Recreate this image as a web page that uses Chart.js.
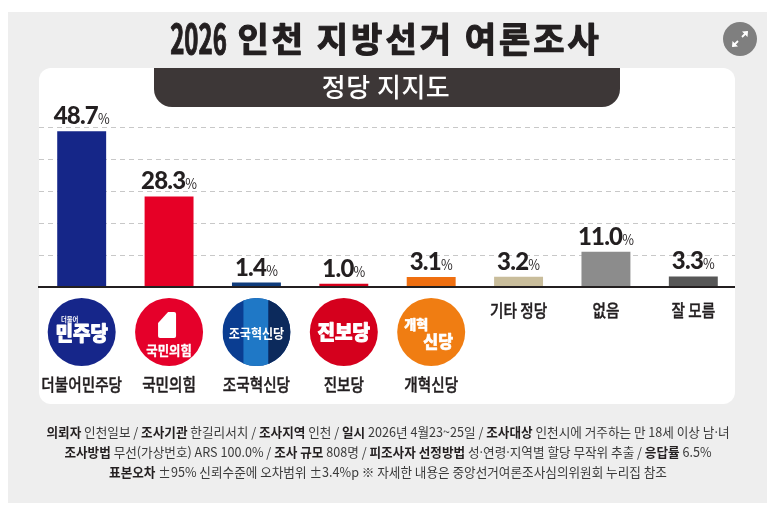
<!DOCTYPE html>
<html lang="ko">
<head>
<meta charset="utf-8">
<script src="https://cdn.jsdelivr.net/npm/chart.js@4.4.1/dist/chart.umd.min.js"></script>
<style>
  html, body { margin: 0; padding: 0; background: #fff; }
  #wrap { position: relative; width: 777px; height: 513px; }
  canvas { display: block; }
</style>
</head>
<body>
<div id="wrap"><canvas id="pollChart" width="777" height="513"></canvas></div>
<script>
// --- Data ---
const categories = ["더불어민주당", "국민의힘", "조국혁신당", "진보당", "개혁신당", "기타 정당", "없음", "잘 모름"];
const support = [48.7, 28.3, 1.4, 1.0, 3.1, 3.2, 11.0, 3.3];
const barColors = ["#152688", "#e60026", "#103c7c", "#d6001c", "#ef6f10", "#c9bd9b", "#8c8c8c", "#575757"];
const logoCount = 5; // first five parties have a logo circle
const yMax = 50;
const yStep = 10;

const titleText = "2026 인천 지방선거 여론조사";
const bannerText = "정당 지지도";
const footerLines = [
  [["의뢰자", " 인천일보 / "], ["조사기관", " 한길리서치 / "], ["조사지역", " 인천 / "], ["일시", " 2026년 4월23~25일 / "], ["조사대상", " 인천시에 거주하는 만 18세 이상 남·녀"]],
  [["조사방법", " 무선(가상번호) ARS 100.0% / "], ["조사 규모", " 808명 / "], ["피조사자 선정방법", " 성·연령·지역별 할당 무작위 추출 / "], ["응답률", " 6.5%"]],
  [["표본오차", " ±95% 신뢰수준에 오차범위 ±3.4%p ※ 자세한 내용은 중앙선거여론조사심의위원회 누리집 참조"]]
];

const KR = '"Noto Sans CJK KR", "Noto Sans", sans-serif';

// --- text helpers ---
function runWidth(ctx, r) {
  ctx.font = r.f;
  ctx.letterSpacing = r.ls || "0px";
  return ctx.measureText(r.t).width * (r.sx || 1);
}

function drawRuns(ctx, runs, cx, y, baseline) {
  const total = runs.reduce((s, r) => s + runWidth(ctx, r), 0);
  let x = cx - total / 2;
  runs.forEach(r => {
    const w = runWidth(ctx, r);
    ctx.save();
    ctx.font = r.f;
    ctx.letterSpacing = r.ls || "0px";
    ctx.fillStyle = r.c;
    ctx.textAlign = "left";
    ctx.textBaseline = baseline || "middle";
    ctx.translate(x, y);
    ctx.scale(r.sx || 1, 1);
    ctx.fillText(r.t, 0, 0);
    if (r.stroke) {
      ctx.strokeStyle = r.c;
      ctx.lineWidth = r.stroke;
      ctx.lineJoin = "round";
      ctx.strokeText(r.t, 0, 0);
    }
    ctx.restore();
    x += w;
  });
  return total;
}

// --- party logos ---
function drawLogo(ctx, i, cx, cy) {
  const r = 34;
  ctx.save();
  ctx.beginPath();
  ctx.arc(cx, cy, r, 0, Math.PI * 2);
  ctx.closePath();
  if (i === 2) {
    ctx.save();
    ctx.clip();
    ctx.fillStyle = "#0a3d91";
    ctx.fillRect(cx - r, cy - r, 2 * r, 2 * r);
    ctx.fillStyle = "#1f78c6";
    ctx.fillRect(cx - 13, cy - r, 25, 2 * r);
    ctx.fillStyle = "#0c2a5c";
    ctx.fillRect(cx + 12, cy - r, r, 2 * r);
    ctx.restore();
  } else {
    ctx.fillStyle = ["#16268a", "#e5002a", null, "#d5001d", "#f07d12"][i];
    ctx.fill();
  }
  const w = "#ffffff";
  if (i === 0) {
    drawRuns(ctx, [{ t: "민주당", f: `900 20px ${KR}`, c: w, sx: 0.95, stroke: 0.9 }], cx, cy + 1);
    drawRuns(ctx, [{ t: "더불어", f: `700 7px ${KR}`, c: w, sx: 0.9 }], cx - 12, cy - 13);
  } else if (i === 1) {
    // white emblem
    const x0 = cx - 11, x1 = cx + 7, y0 = cy - 20, y1 = cy + 6;
    ctx.beginPath();
    ctx.moveTo(x0, y0 + 11);
    ctx.lineTo(x0 + 10, y0);
    ctx.lineTo(x1 - 2, y0);
    ctx.quadraticCurveTo(x1, y0, x1, y0 + 2);
    ctx.lineTo(x1, y1 - 2);
    ctx.quadraticCurveTo(x1, y1, x1 - 2, y1);
    ctx.lineTo(x0 + 2, y1);
    ctx.quadraticCurveTo(x0, y1, x0, y1 - 2);
    ctx.closePath();
    ctx.fillStyle = w;
    ctx.fill();
    drawRuns(ctx, [{ t: "국민의힘", f: `700 13px ${KR}`, c: w, sx: 0.95, stroke: 0.3 }], cx, cy + 18);
  } else if (i === 2) {
    drawRuns(ctx, [{ t: "조국혁신당", f: `700 13px ${KR}`, c: w, sx: 0.93 }], cx, cy + 1);
  } else if (i === 3) {
    drawRuns(ctx, [{ t: "진보당", f: `900 20px ${KR}`, c: w, sx: 0.95, stroke: 1 }], cx, cy);
  } else if (i === 4) {
    drawRuns(ctx, [{ t: "개혁", f: `900 13px ${KR}`, c: w, sx: 1, stroke: 0.5 }], cx - 15, cy - 8);
    drawRuns(ctx, [{ t: "신당", f: `900 17px ${KR}`, c: w, sx: 0.95, stroke: 0.6 }], cx + 7, cy + 10);
  }
  ctx.restore();
}

// --- page decoration + labels plugin ---
const pagePlugin = {
  id: "page",
  beforeDraw(chart) {
    const ctx = chart.ctx;
    ctx.save();
    ctx.fillStyle = "#ffffff";
    ctx.fillRect(0, 0, chart.width, chart.height);
    ctx.fillStyle = "#eeeeee";
    ctx.fillRect(8, 12, 759, 491);
    // white card
    ctx.fillStyle = "#ffffff";
    ctx.beginPath();
    ctx.roundRect(39, 68, 696, 336, 12);
    ctx.fill();
    // title
    drawRuns(ctx, [
      { t: titleText.slice(0, 4), f: `700 40px ${KR}`, c: "#231f20", sx: 0.6, stroke: 1.2 },
      { t: titleText.slice(4), f: `700 34px ${KR}`, c: "#231f20", ls: "3px", stroke: 1.2 }
    ], 386, 39);
    // banner
    ctx.fillStyle = "#3d3737";
    ctx.beginPath();
    ctx.roundRect(154, 68, 466, 39, [0, 0, 18, 18]);
    ctx.fill();
    drawRuns(ctx, [{ t: bannerText, f: `500 26px ${KR}`, c: "#ffffff", ls: "0.5px" }], 386, 87);
    // expand icon
    ctx.fillStyle = "#7f7f7f";
    ctx.beginPath();
    ctx.arc(740, 39, 17, 0, Math.PI * 2);
    ctx.fill();
    ctx.strokeStyle = "#ffffff";
    ctx.fillStyle = "#ffffff";
    ctx.lineWidth = 1.8;
    ctx.beginPath();
    ctx.moveTo(742, 37); ctx.lineTo(747, 32);
    ctx.moveTo(738, 41); ctx.lineTo(733, 46);
    ctx.stroke();
    ctx.beginPath();
    ctx.moveTo(748, 31); ctx.lineTo(742, 31.5); ctx.lineTo(747.5, 37); ctx.closePath();
    ctx.moveTo(732, 47); ctx.lineTo(738, 46.5); ctx.lineTo(732.5, 41); ctx.closePath();
    ctx.fill();
    // footer
    footerLines.forEach((line, li) => {
      const runs = [];
      line.forEach(([b, r]) => {
        runs.push({ t: b, f: `700 13px ${KR}`, c: "#231f20", sx: 0.97 });
        runs.push({ t: r, f: `400 13px ${KR}`, c: "#3a3a3a", sx: 0.97 });
      });
      drawRuns(ctx, runs, 388, 432 + li * 20);
    });
    ctx.restore();
  },
  beforeDatasetsDraw(chart) {
    // dashed horizontal grid from the y scale ticks
    const ctx = chart.ctx;
    const area = chart.chartArea;
    const ys = chart.scales.y;
    ctx.save();
    ctx.strokeStyle = "#c8c8c8";
    ctx.lineWidth = 1;
    ctx.setLineDash([5, 4]);
    ys.ticks.forEach(t => {
      if (t.value === 0) return;
      const y = Math.round(ys.getPixelForValue(t.value)) + 0.5;
      ctx.beginPath();
      ctx.moveTo(area.left + 1, y);
      ctx.lineTo(area.right - 2, y);
      ctx.stroke();
    });
    ctx.restore();
  },
  afterDatasetsDraw(chart) {
    const ctx = chart.ctx;
    const area = chart.chartArea;
    const xs = chart.scales.x;
    const ys = chart.scales.y;
    const meta = chart.getDatasetMeta(0);
    ctx.save();
    // baseline
    const y0 = ys.getPixelForValue(0);
    ctx.strokeStyle = "#231f20";
    ctx.lineWidth = 2;
    ctx.beginPath();
    ctx.moveTo(area.left, y0);
    ctx.lineTo(area.right - 2, y0);
    ctx.stroke();
    // value labels
    meta.data.forEach((bar, i) => {
      drawRuns(ctx, [
        { t: support[i].toFixed(1), f: `900 24px Lato, ${KR}`, c: "#231f20", ls: "-0.8px" },
        { t: "%", f: `400 15px ${KR}`, c: "#231f20", sx: 0.85 }
      ], bar.x, bar.y - 7, "alphabetic");
    });
    // category logos and names
    categories.forEach((name, i) => {
      const cx = xs.getPixelForValue(i);
      const nameY = i < logoCount ? 385 : 311;
      if (i < logoCount) drawLogo(ctx, i, cx, 332);
      drawRuns(ctx, [{ t: name, f: `500 17px ${KR}`, c: "#231f20", sx: 0.86, stroke: 0.4 }], cx, nameY);
    });
    ctx.restore();
  }
};

// --- Chart.js Setup ---
const ctx = document.getElementById("pollChart").getContext("2d");
const pollChart = new Chart(ctx, {
  type: "bar",
  data: {
    labels: categories,
    datasets: [{
      label: "정당 지지도",
      data: support,
      backgroundColor: barColors,
      borderWidth: 0,
      barPercentage: 0.56,
      categoryPercentage: 1.0
    }]
  },
  options: {
    responsive: false,
    animation: false,
    layout: { padding: { left: 38, right: 40, top: 127, bottom: 226 } },
    plugins: {
      legend: { display: false },
      tooltip: { enabled: false }
    },
    scales: {
      x: { display: false },
      y: {
        min: 0,
        max: yMax,
        ticks: { display: false, stepSize: yStep },
        grid: { display: false, drawTicks: false },
        border: { display: false }
      }
    }
  },
  plugins: [pagePlugin]
});
</script>
</body>
</html>
